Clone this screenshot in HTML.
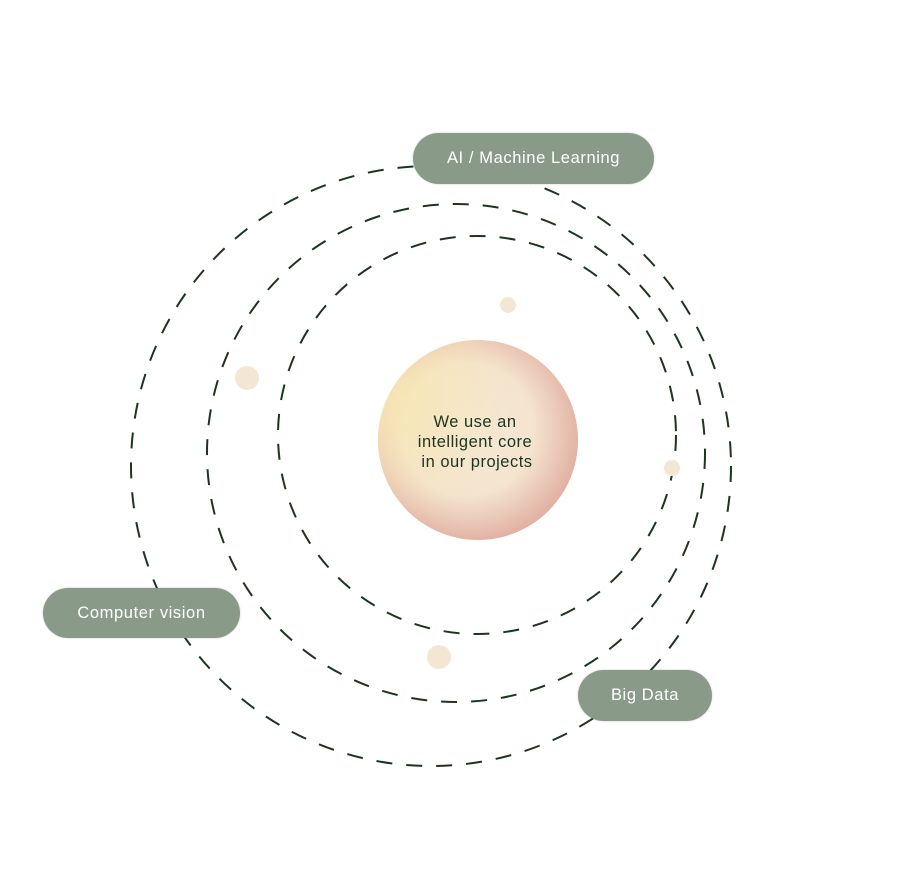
<!DOCTYPE html>
<html><head><meta charset="utf-8"><style>
body{margin:0;width:915px;height:893px;background:#fff;overflow:hidden;position:relative;font-family:"Liberation Sans",sans-serif}
.pill{position:absolute;background:#8a9a89;color:#fff;border-radius:26px;display:flex;align-items:center;justify-content:center;font-size:16.5px;letter-spacing:0.6px;box-shadow:0 0 2px rgba(0,0,0,0.2)}
</style></head><body>
<svg width="915" height="893" style="position:absolute;left:0;top:0">
<defs>
<radialGradient id="g" cx="0.45" cy="0.45" r="0.6">
<stop offset="0" stop-color="#f4e8d8"/><stop offset="0.55" stop-color="#f4e4cf"/><stop offset="1" stop-color="#dfa99c"/></radialGradient>
<radialGradient id="g2" cx="0.1" cy="0.3" r="0.6">
<stop offset="0" stop-color="#f7e6b2" stop-opacity="0.9"/><stop offset="1" stop-color="#f7e6b2" stop-opacity="0"/></radialGradient>
</defs>
<g fill="none" stroke="#1c3520" stroke-width="2" stroke-dasharray="16 14">
<circle cx="431" cy="466" r="300"/>
<circle cx="456" cy="453" r="249"/>
<circle cx="477" cy="435" r="199"/>
</g>
<circle cx="478" cy="440" r="100" fill="url(#g)"/>
<circle cx="478" cy="440" r="100" fill="url(#g2)"/>
<g fill="#f3e6d3">
<circle cx="508" cy="305" r="8"/><circle cx="247" cy="378" r="12"/>
<circle cx="672" cy="468" r="8"/><circle cx="439" cy="657" r="12"/>
</g>
<g font-size="16.5" fill="#1c3520" font-family="Liberation Sans" text-anchor="middle" letter-spacing="0.5">
<text x="475" y="427">We use an</text>
<text x="475" y="447">intelligent core</text>
<text x="477" y="467">in our projects</text>
</g>
</svg>
<div class="pill" style="left:413px;top:133px;width:241px;height:51px">AI / Machine Learning</div>
<div class="pill" style="left:43px;top:588px;width:197px;height:50px">Computer vision</div>
<div class="pill" style="left:578px;top:670px;width:134px;height:51px">Big Data</div>
</body></html>
